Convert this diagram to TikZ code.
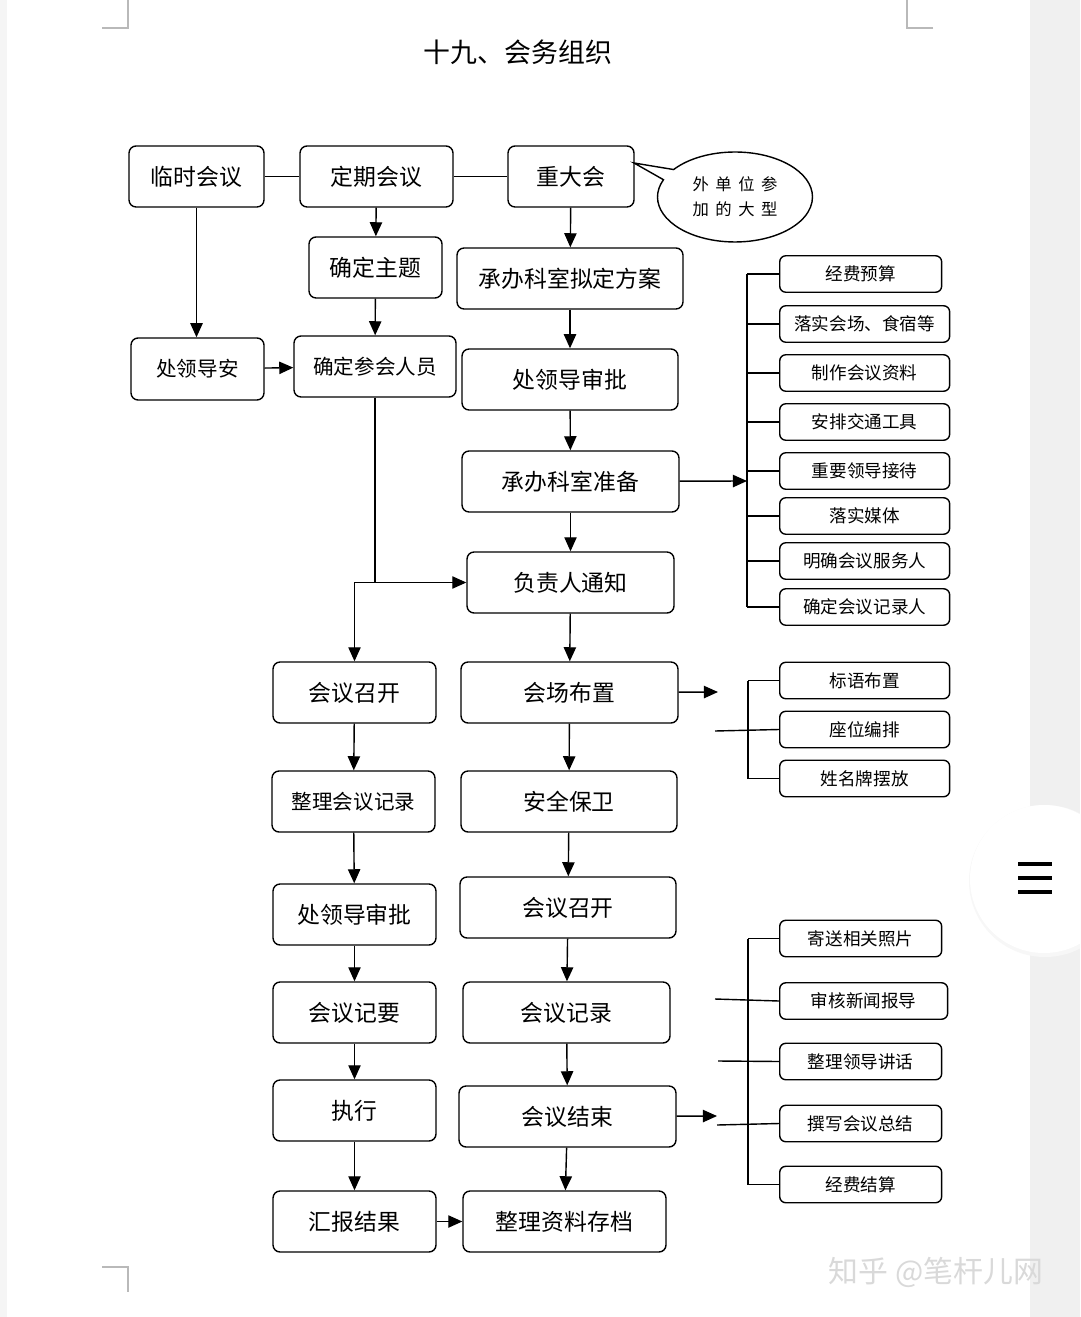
\documentclass[tikz,border=0pt]{standalone}
\usepackage{fontspec}
\setmainfont{Noto Sans CJK SC}
\usetikzlibrary{arrows.meta,shapes.callouts}

\begin{document}
\begin{tikzpicture}[x=0.02cm, y=-0.02cm,
    box/.style={draw, rounded corners=4pt, line width=0.8pt, minimum height=1.22cm, inner sep=0pt, font=\fontsize{13}{15}\selectfont},
    sbox/.style={box, font=\fontsize{11.7}{14}\selectfont},
    item/.style={draw, rounded corners=3.5pt, line width=0.8pt, anchor=west, minimum width=3.4cm, minimum height=0.73cm, inner sep=0pt, font=\fontsize{10}{12}\selectfont},
    arr/.style={line width=0.8pt, -{Triangle[length=8pt,width=7pt]}},
    ln/.style={line width=0.8pt},
    cornermark/.style={gray!55, line width=0.6pt}]
        % page and screen
        \useasboundingbox (0,0) rectangle (1080,1317);
        \fill[white] (0,0) rectangle (1080,1317);
        \fill[gray!8] (0,0) rectangle (7,1317);
        \fill[gray!12] (1030,0) rectangle (1080,1317);
        \begin{scope}
            \clip (0,0) rectangle (1080,1317);
            \fill[gray!6] (1045,881) circle (76);
            \fill[white] (1044,879) circle (74);
        \end{scope}
        \foreach \y in {864,878,892}
            \draw[line width=2.8pt] (1018,\y) -- (1052,\y);
        \draw[cornermark] (102,28) -- (128,28) -- (128,0);
        \draw[cornermark] (933,28) -- (907,28) -- (907,0);
        \draw[cornermark] (102,1267) -- (128,1267) -- (128,1292);
        \node[gray!30, font=\fontsize{17}{20}\selectfont] (wm) at (936,1272) {知乎 @笔杆儿网};

        \node[font=\fontsize{15.3}{18}\selectfont] (title) at (518,52) {十九、会务组织};

        % top row
        \node[box, minimum width=2.7cm] (lsh) at (196.5,176.5) {临时会议};
        \node[box, minimum width=3.06cm] (dq) at (376.5,176.5) {定期会议};
        \node[box, minimum width=2.52cm] (zd) at (571,176.5) {重大会};
        \coordinate (ptr) at (634,163);
        \node[draw, ellipse callout, callout absolute pointer=(ptr), line width=0.8pt, minimum width=3.1cm, minimum height=1.8cm, inner sep=0pt, align=center, font=\fontsize{9.3}{14}\selectfont] (wdw) at (735,197)
            {外\hspace{0.4em}单\hspace{0.4em}位\hspace{0.4em}参\\加\hspace{0.4em}的\hspace{0.4em}大\hspace{0.4em}型};

        \node[box, minimum width=2.66cm] (zt) at (375.5,267.5) {确定主题};
        \node[box, minimum width=4.52cm] (nd) at (570,278.5) {承办科室拟定方案};
        \node[sbox, minimum width=2.66cm, minimum height=1.24cm] (cla) at (197.5,369) {处领导安};
        \node[sbox, minimum width=3.24cm] (cry) at (375,366.5) {确定参会人员};
        \node[box, minimum width=4.32cm] (sp1) at (570,379.5) {处领导审批};
        \node[box, minimum width=4.34cm] (zb) at (570.5,481.5) {承办科室准备};
        \node[box, minimum width=4.14cm] (tz) at (570.5,582.5) {负责人通知};

        % left column
        \node[box, minimum width=3.26cm] (kk1) at (354.5,692.5) {会议召开};
        \node[sbox, minimum width=3.26cm] (jl1) at (353.5,801.5) {整理会议记录};
        \node[box, minimum width=3.26cm] (sp2) at (354.5,914.5) {处领导审批};
        \node[box, minimum width=3.26cm] (jy) at (354.5,1012.5) {会议记要};
        \node[box, minimum width=3.26cm] (zx) at (354.5,1110.5) {执行};
        \node[box, minimum width=3.26cm] (hb) at (354.5,1221.5) {汇报结果};

        % middle column
        \node[box, minimum width=4.34cm] (hc) at (569.5,692.5) {会场布置};
        \node[box, minimum width=4.32cm] (aq) at (569,801.5) {安全保卫};
        \node[box, minimum width=4.32cm] (kk2) at (568,907.5) {会议召开};
        \node[box, minimum width=4.14cm] (jl2) at (566.5,1012.5) {会议记录};
        \node[box, minimum width=4.34cm] (js) at (567.5,1116.5) {会议结束};
        \node[box, minimum width=4.06cm] (cd) at (564.5,1221.5) {整理资料存档};

        % right lists
        \node[item, minimum width=3.24cm] (a1) at (779,274) {经费预算};
        \node[item] (a2) at (779,324) {落实会场、食宿等};
        \node[item] (a3) at (779,373) {制作会议资料};
        \node[item] (a4) at (779,422) {安排交通工具};
        \node[item] (a5) at (779,471) {重要领导接待};
        \node[item] (a6) at (779,516) {落实媒体};
        \node[item] (a7) at (779,561) {明确会议服务人};
        \node[item] (a8) at (779,607) {确定会议记录人};

        \node[item] (b1) at (779,680.5) {标语布置};
        \node[item] (b2) at (779,729.5) {座位编排};
        \node[item] (b3) at (779,778.5) {姓名牌摆放};

        \node[item, minimum width=3.24cm] (c1) at (779,938.5) {寄送相关照片};
        \node[item, minimum width=3.36cm] (c2) at (779,1001) {审核新闻报导};
        \node[item, minimum width=3.24cm] (c3) at (779,1061.5) {整理领导讲话};
        \node[item, minimum width=3.24cm] (c4) at (779,1123.5) {撰写会议总结};
        \node[item, minimum width=3.24cm] (c5) at (779,1184.5) {经费结算};

        % connectors
        \draw[ln] (lsh) -- (dq);
        \draw[ln] (dq) -- (zd);
        \draw[arr] (lsh.south) -- (lsh.south |- cla.north);
        \draw[arr] (cla) -- (cry);
        \draw[arr] (dq) -- (zt);
        \draw[arr] (zt) -- (cry);
        \draw[arr] (zd) -- (nd);
        \draw[arr] (nd) -- (sp1);
        \draw[arr] (sp1) -- (zb);
        \draw[arr] (zb) -- (tz);
        \draw[arr] (cry.south) |- (tz.west);
        \draw[arr] (cry.south |- tz.west) -| (kk1.north);
        \draw[arr] (tz) -- (hc);
        \draw[arr] (hc) -- (aq);
        \draw[arr] (aq) -- (kk2);
        \draw[arr] (kk2) -- (jl2);
        \draw[arr] (jl2) -- (js);
        \draw[arr] (js) -- (cd);
        \draw[arr] (kk1) -- (jl1);
        \draw[arr] (jl1) -- (sp2);
        \draw[arr] (sp2) -- (jy);
        \draw[arr] (jy) -- (zx);
        \draw[arr] (zx) -- (hb);
        \draw[arr] (hb) -- (cd);

        % brackets
        \coordinate (ea) at (747,481);
        \coordinate (eb) at (718,692);
        \coordinate (ec) at (717,1116);
        \draw[arr] (zb) -- (ea);
        \draw[arr] (hc) -- (eb);
        \draw[arr] (js) -- (ec);
        \draw[ln] ([xshift=-0.64cm]a1.west) -- ([xshift=-0.64cm]a8.west);
        \draw[ln] ([xshift=-0.62cm]b1.west) -- ([xshift=-0.62cm]b3.west);
        \draw[ln] ([xshift=-0.62cm]c1.west) -- ([xshift=-0.62cm]c5.west);
        \foreach \n in {a1,a2,a3,a4,a5,a6,a7,a8}
            \draw[ln] (\n.west) -- ++(-32,0);
        \foreach \n in {b1,b3,c1,c5}
            \draw[ln] (\n.west) -- ++(-31,0);
        \coordinate (sb) at (715,731);
        \coordinate (sc2) at (715,999);
        \coordinate (sc3) at (718,1061);
        \coordinate (sc4) at (717,1125);
        \draw[ln] (sb) -- (b2.west);
        \draw[ln] (sc2) -- (c2.west);
        \draw[ln] (sc3) -- (c3.west);
        \draw[ln] (sc4) -- (c4.west);
\end{tikzpicture}
\end{document}
